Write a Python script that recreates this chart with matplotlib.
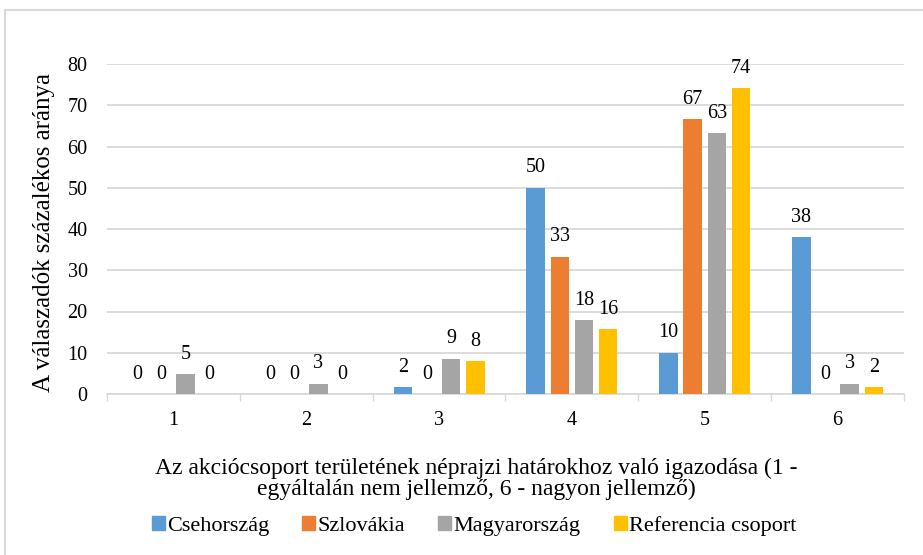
import math
import numpy as np
import matplotlib
matplotlib.use("Agg")
import matplotlib.pyplot as plt
from matplotlib.lines import Line2D

categories = ["1", "2", "3", "4", "5", "6"]
series_names = ["Csehország", "Szlovákia", "Magyarország", "Referencia csoport"]
cseh = [0, 0, 1.7, 50.0, 10.0, 38.1]
szlov = [0, 0, 0, 33.3, 66.7, 0]
magyar = [4.9, 2.5, 8.6, 17.9, 63.2, 2.5]
referencia = [0, 0, 7.9, 15.8, 74.1, 1.7]
colors = ["#5B9BD5", "#ED7D31", "#A5A5A5", "#FFC000"]
yticks = [0, 10, 20, 30, 40, 50, 60, 70, 80]
ylabel = "A válaszadók százalékos aránya"
xlabel = "Az akciócsoport területének néprajzi határokhoz való igazodása (1 -\negyáltalán nem jellemző, 6 - nagyon jellemző)"

plt.rcParams["font.family"] = ["Liberation Serif", "DejaVu Serif"]

fig = plt.figure(figsize=(9.23, 5.55), dpi=100)
ax = fig.add_axes([107 / 923, 1 - 394 / 555, (904 - 107) / 923, (394 - 64) / 555])

x = np.arange(len(categories))
step = 0.182
width = 0.139
all_series = [cseh, szlov, magyar, referencia]
for i, (vals, col, name) in enumerate(zip(all_series, colors, series_names)):
    pos = x + (i - 1.5) * step
    ax.bar(pos, vals, width=width, color=col, label=name, zorder=3)
    for p, v in zip(pos, vals):
        lab = str(int(math.floor(v + 0.5)))
        ax.annotate(lab, (p, v), xytext=(0, 11), textcoords="offset points",
                    ha="center", va="baseline", fontsize=14.5, color="#000000")

ax.set_xlim(-0.5, len(categories) - 0.5)
ax.set_ylim(0, 80)
ax.set_yticks(yticks)
ax.set_yticklabels([str(t) for t in yticks], fontsize=14.5)
ax.set_xticks(x)
ax.set_xticklabels(categories, fontsize=14.5)
ax.tick_params(axis="y", length=0, pad=14)
ax.tick_params(axis="x", length=0, pad=12)
ax.set_xticks(np.arange(-0.5, len(categories)), minor=True)
ax.tick_params(axis="x", which="minor", length=5, width=1, color="#D9D9D9")
ax.grid(axis="y", color="#D9D9D9", linewidth=1.3, zorder=0)
for s in ["top", "right", "left"]:
    ax.spines[s].set_visible(False)
ax.spines["bottom"].set_color("#D9D9D9")
ax.spines["bottom"].set_linewidth(1.3)

fig.text(44 / 923, 1 - 233 / 555, ylabel, rotation=90, ha="center", va="center", fontsize=18)
fig.text(476 / 923, 1 - 479 / 555, xlabel, ha="center", va="center", fontsize=17,
         linespacing=1.02)

handles = [plt.Rectangle((0, 0), 1, 1, color=c) for c in colors]
fig.legend(handles, series_names, loc="center", bbox_to_anchor=(474 / 923, 1 - 526 / 555),
           ncol=4, frameon=False, fontsize=16, handlelength=0.58, handleheight=0.58,
           handletextpad=0.1, columnspacing=1.5, borderaxespad=0, borderpad=0)

fig.add_artist(Line2D([5 / 923, 5 / 923], [0, 1 - 10 / 555], transform=fig.transFigure,
                      color="#D9D9D9", linewidth=1.5))
fig.add_artist(Line2D([5 / 923, 1], [1 - 10 / 555, 1 - 10 / 555], transform=fig.transFigure,
                      color="#D9D9D9", linewidth=1.5))

fig.savefig("out.png", dpi=100)
